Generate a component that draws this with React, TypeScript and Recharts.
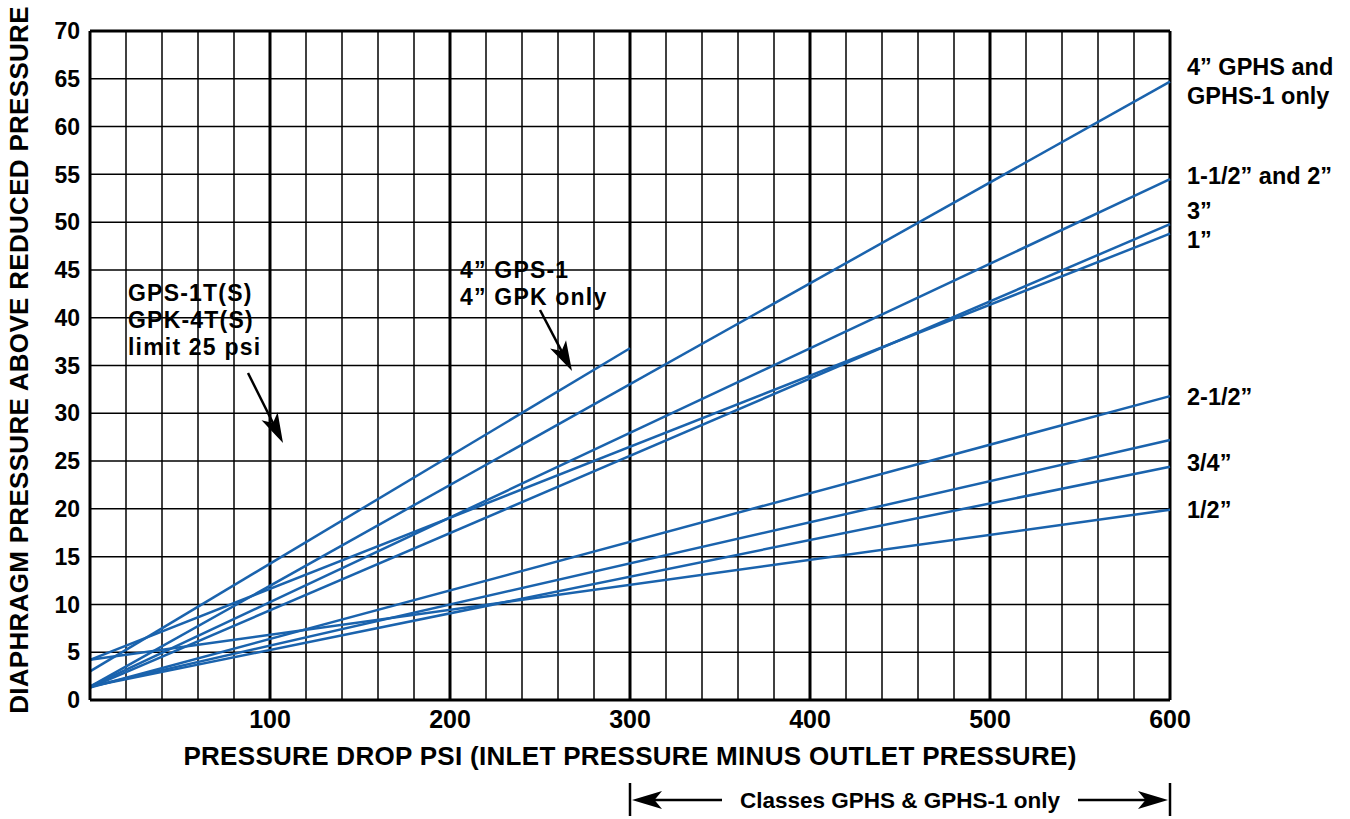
import { CartesianGrid, Line, LineChart, ReferenceLine, XAxis, YAxis } from "recharts";

// each line is straight: read at its two ends (psi, diaphragm pressure)
const seriesNames = [
  "4\u201D GPHS and GPHS-1 only",
  "1-1/2\u201D and 2\u201D",
  "3\u201D",
  "1\u201D",
  "2-1/2\u201D",
  "3/4\u201D (upper)",
  "3/4\u201D",
  "1/2\u201D",
  "4\u201D GPS-1 / 4\u201D GPK only",
];
const startPsi = [0, 0, 0, 0, 0, 0, 0, 0, 0];
const endPsi = [600, 600, 600, 600, 600, 600, 600, 600, 300];
const startPressure = [1.4, 1.4, 1.3, 4.2, 1.3, 1.4, 1.4, 4.2, 3.0];
const endPressure = [64.7, 54.5, 49.8, 48.8, 31.8, 27.2, 24.4, 19.9, 36.8];

const xTicks = [0, 20, 40, 60, 80, 100, 120, 140, 160, 180, 200, 220, 240, 260, 280, 300, 320, 340, 360, 380, 400, 420, 440, 460, 480, 500, 520, 540, 560, 580, 600];
const xLabelTicks = [100, 200, 300, 400, 500, 600];
const heavyGridPsi = [100, 200, 300, 400, 500];
const yTicks = [0, 5, 10, 15, 20, 25, 30, 35, 40, 45, 50, 55, 60, 65, 70];

const FONT = "'Liberation Sans', Arial, Helvetica, sans-serif";
const BLUE = "#1a63ad";

const series = seriesNames.map((name, i) => ({
  name,
  points: [
    { x: startPsi[i], y: startPressure[i] },
    { x: endPsi[i], y: endPressure[i] },
  ],
}));

function Arrow({ x1, y1, x2, y2 }: { x1: number; y1: number; x2: number; y2: number }) {
  const dx = x2 - x1, dy = y2 - y1;
  const len = Math.hypot(dx, dy);
  const ux = dx / len, uy = dy / len;
  const hl = 30, hw = 9;
  const bx = x2 - ux * hl, by = y2 - uy * hl;
  const pts = `${x2},${y2} ${bx - uy * hw},${by + ux * hw} ${x2 - ux * hl * 0.75},${y2 - uy * hl * 0.75} ${bx + uy * hw},${by - ux * hw}`;
  return (
    <g>
      <line x1={x1} y1={y1} x2={x2 - ux * 10} y2={y2 - uy * 10} stroke="#000" strokeWidth={2.5} />
      <polygon points={pts} fill="#000" />
    </g>
  );
}

const txt = { fontFamily: FONT, fontWeight: "bold" as const, fill: "#000" };

function Annotations() {
  return (
    <svg width={1350} height={819} style={{ position: "absolute", left: 0, top: 0, pointerEvents: "none" }}>
      <text transform="translate(19,360) rotate(-90)" textAnchor="middle" dominantBaseline="central" fontSize={26} letterSpacing={0.3} {...txt}>
        DIAPHRAGM PRESSURE ABOVE REDUCED PRESSURE
      </text>
      <text x={630} y={756} textAnchor="middle" dominantBaseline="central" fontSize={26} letterSpacing={0.3} {...txt}>
        PRESSURE DROP PSI (INLET PRESSURE MINUS OUTLET PRESSURE)
      </text>

      <g fontSize={23.5} {...txt}>
        <text x={1187} y={67} dominantBaseline="central">4{"\u201D"} GPHS and</text>
        <text x={1187} y={96} dominantBaseline="central">GPHS-1 only</text>
        <text x={1187} y={176} dominantBaseline="central">1-1/2{"\u201D"} and 2{"\u201D"}</text>
        <text x={1187} y={211} dominantBaseline="central">3{"\u201D"}</text>
        <text x={1187} y={240} dominantBaseline="central">1{"\u201D"}</text>
        <text x={1187} y={397} dominantBaseline="central">2-1/2{"\u201D"}</text>
        <text x={1187} y={463} dominantBaseline="central">3/4{"\u201D"}</text>
        <text x={1187} y={510} dominantBaseline="central">1/2{"\u201D"}</text>
      </g>

      <g fontSize={23} letterSpacing={1.2} {...txt}>
        <text x={128} y={293} dominantBaseline="central">GPS-1T(S)</text>
        <text x={128} y={320} dominantBaseline="central">GPK-4T(S)</text>
        <text x={128} y={347} dominantBaseline="central">limit 25 psi</text>
        <text x={460} y={270} dominantBaseline="central">4{"\u201D"} GPS-1</text>
        <text x={460} y={297} dominantBaseline="central">4{"\u201D"} GPK only</text>
      </g>
      <Arrow x1={248} y1={373} x2={283} y2={443} />
      <Arrow x1={540} y1={310} x2={572} y2={371} />

      <line x1={630} y1={783} x2={630} y2={816} stroke="#000" strokeWidth={2.5} />
      <line x1={1170} y1={783} x2={1170} y2={816} stroke="#000" strokeWidth={2.5} />
      <Arrow x1={722} y1={800} x2={632} y2={800} />
      <Arrow x1={1078} y1={800} x2={1168} y2={800} />
      <text x={900} y={800} textAnchor="middle" dominantBaseline="central" fontSize={22.5} {...txt}>
        Classes GPHS &amp; GPHS-1 only
      </text>
    </svg>
  );
}

export default function App() {
  return (
    <div style={{ position: "absolute", left: 0, top: 0, width: 1350, height: 819, background: "#fff" }}>
      <LineChart width={1350} height={819} margin={{ top: 31, right: 180, bottom: 59, left: 0 }}>
        <CartesianGrid stroke="#000" strokeWidth={1.5} />
        <XAxis
          type="number"
          dataKey="x"
          domain={[0, 600]}
          ticks={xTicks}
          interval={0}
          tickFormatter={(v: number) => (xLabelTicks.includes(v) ? String(v) : "")}
          tickLine={false}
          tickSize={6}
          tickMargin={4}
          height={60}
          axisLine={{ stroke: "#000", strokeWidth: 3 }}
          tick={{ fill: "#000", fontSize: 25, fontWeight: "bold", fontFamily: FONT }}
        />
        <YAxis
          type="number"
          domain={[0, 70]}
          ticks={yTicks}
          interval={0}
          width={90}
          tickLine={false}
          tickSize={6}
          tickMargin={4}
          axisLine={{ stroke: "#000", strokeWidth: 3 }}
          tick={{ fill: "#000", fontSize: 23, fontWeight: "bold", fontFamily: FONT }}
        />
        {heavyGridPsi.map((p) => (
          <ReferenceLine key={p} x={p} stroke="#000" strokeWidth={3} />
        ))}
        <ReferenceLine x={600} stroke="#000" strokeWidth={3} />
        <ReferenceLine y={70} stroke="#000" strokeWidth={3} />
        {series.map((s) => (
          <Line
            key={s.name}
            name={s.name}
            data={s.points}
            dataKey="y"
            type="linear"
            stroke={BLUE}
            strokeWidth={2.5}
            dot={false}
            activeDot={false}
            isAnimationActive={false}
          />
        ))}
      </LineChart>
      <Annotations />
    </div>
  );
}
